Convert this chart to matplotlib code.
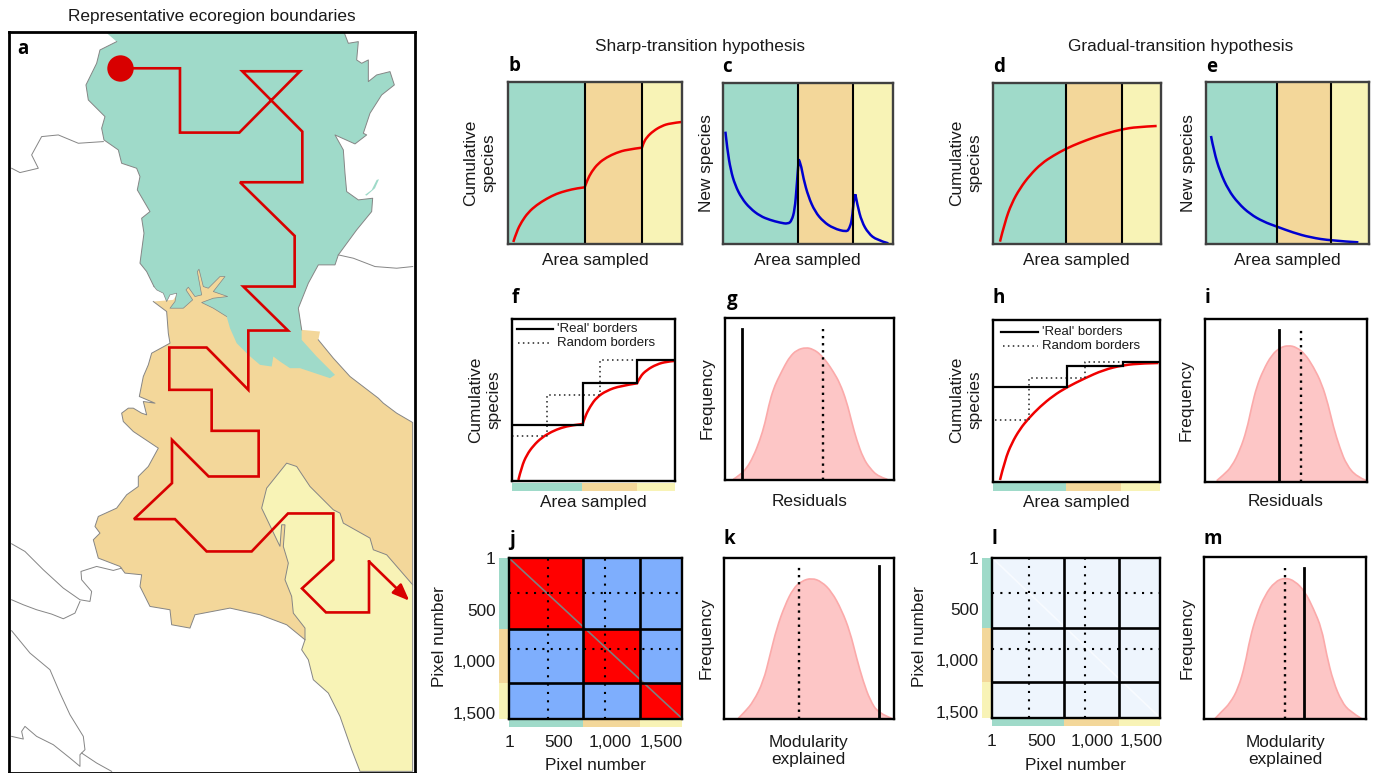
import matplotlib
matplotlib.use("Agg")
import matplotlib.pyplot as plt
from matplotlib.colors import ListedColormap
from matplotlib.patches import PathPatch
from matplotlib.path import Path
import numpy as np

plt.rcParams['font.family'] = ['Liberation Sans', 'DejaVu Sans']

W, H = 1373, 773
GREEN, ORANGE, YELLOW = '#9fdac9', '#f3d79a', '#f8f3b6'
RED, BLUE = '#f00000', '#0000d0'
PINK, PINK_EDGE = '#fdc6c6', '#fbaaaa'
GREY = '#858585'
PATH_RED = '#d80000'

# map readings, all in one scale (no numbers on this panel)
green_top_x = [320, 1033]
green_top_y = [99, 99]
green_east_x = [1033, 1045, 1075, 1070, 1085, 1105, 1105, 1130, 1170, 1183, 1145, 1110, 1090, 1100, 1065, 1005, 1030,
                1035, 1040, 1075, 1118, 1115, 1070, 1015, 1005, 955, 925, 895, 905]
green_east_y = [99, 130, 125, 180, 190, 180, 245, 225, 215, 255, 285, 340, 400, 405, 432, 405, 450,
                520, 575, 600, 595, 635, 690, 765, 795, 795, 850, 925, 990]
green_low_x = [905, 950, 1005, 990, 960, 900, 870, 840, 820, 815, 780, 745, 710, 690, 680, 640, 605, 640, 683, 640,
               675, 660, 625, 610, 597, 592, 605, 585, 565, 558, 578, 550, 510, 525, 530, 510, 500, 490, 470, 462]
green_low_y = [1020, 1070, 1125, 1135, 1125, 1105, 1105, 1085, 1070, 1100, 1095, 1065, 1030, 985, 950, 925, 908, 895,
               890, 875, 830, 830, 865, 860, 808, 815, 885, 890, 862, 870, 900, 925, 925, 905, 880, 885, 905, 880, 870, 860]
green_west_x = [462, 440, 420, 432, 425, 450, 412, 420, 410, 365, 355, 312, 305, 315, 265, 258, 290, 300, 350, 320]
green_west_y = [860, 815, 790, 700, 655, 635, 570, 530, 505, 490, 450, 420, 385, 350, 300, 255, 190, 150, 125, 99]

orange_west_x = [460, 500, 505, 510, 455, 445, 430, 418, 465, 430, 440, 425, 400, 385, 365, 370, 400, 475, 445, 415,
                 415, 380, 350, 295, 285, 300, 280, 295, 360, 375, 425, 420, 450, 510, 515, 570, 585, 690, 780, 860, 915]
orange_west_y = [905, 935, 1000, 1030, 1060, 1095, 1130, 1190, 1210, 1205, 1245, 1240, 1225, 1225, 1240, 1265, 1295,
                 1345, 1400, 1430, 1460, 1485, 1525, 1550, 1580, 1600, 1620, 1675, 1700, 1720, 1725, 1760, 1820, 1830,
                 1875, 1885, 1845, 1825, 1845, 1875, 1920]
orange_east_x = [1238, 1238, 1190, 1150, 1135, 1050, 1000, 955, 960, 905, 895]
orange_east_y = [1755, 1268, 1240, 1210, 1195, 1130, 1075, 1020, 995, 990, 925]
# part of the orange that only shows through the inlets of the green
orange_under_x = [700, 590, 520]
orange_under_y = [800, 800, 900]

yellow_x = [860, 890, 930, 1000, 1020, 1030, 1110, 1120, 1160, 1238, 1238, 1080, 1055, 1020, 985, 940, 925, 905, 915,
            915, 880, 875, 855, 865, 850, 855, 845, 840, 785, 800]
yellow_y = [1390, 1400, 1460, 1530, 1540, 1570, 1615, 1650, 1665, 1755, 2315, 2315, 2250, 2150, 2080, 2040, 1980, 1950,
            1920, 1885, 1840, 1790, 1740, 1690, 1640, 1575, 1575, 1640, 1525, 1465]

pond_x = [1095, 1115, 1130, 1137, 1125, 1100]
pond_y = [585, 570, 540, 538, 565, 587]

border_lines = [
    ([35, 60, 115, 95, 125, 175, 235, 310], [505, 518, 505, 465, 410, 405, 430, 425]),
    ([1015, 1060, 1125, 1190, 1238], [765, 775, 800, 805, 800]),
    ([35, 75, 130, 190, 240, 270, 275, 245, 243, 290, 340, 365],
     [1632, 1655, 1710, 1765, 1800, 1805, 1775, 1740, 1715, 1700, 1712, 1705]),
    ([35, 70, 110, 155, 190, 225, 240], [1800, 1815, 1830, 1843, 1857, 1840, 1805]),
    ([35, 90, 150, 180, 210, 250, 255, 240, 240, 210, 160, 110, 75, 65, 70, 35],
     [1893, 1960, 2010, 2080, 2145, 2210, 2250, 2265, 2300, 2275, 2235, 2210, 2180, 2195, 2218, 2210]),
    ([245, 290, 335], [2260, 2290, 2315]),
]

route_x = [360, 540, 540, 718, 900, 727, 907, 907, 720, 884, 884, 730, 864, 745, 745, 620, 508, 508, 635, 635, 776, 776,
           626, 516, 516, 402, 525, 620, 755, 864, 1000, 1000, 906, 978, 1107, 1107]
route_y = [205, 205, 398, 398, 214, 214, 395, 547, 547, 708, 860, 860, 992, 992, 1170, 1043, 1043, 1170, 1170, 1293,
           1293, 1430, 1430, 1320, 1450, 1558, 1558, 1655, 1655, 1541, 1541, 1680, 1766, 1838, 1838, 1685]
route_end = (1228, 1803)

# b-e curves, kinks say where a curve has a sharp corner
b_x = [190, 200, 215, 235, 260, 290, 320, 350, 380, 404, 412, 425, 445, 470, 500, 530, 576, 580, 590, 610, 635, 660, 695]
b_y = [636, 605, 575, 547, 525, 506, 491, 482, 475, 472, 450, 425, 400, 382, 368, 359, 353, 340, 322, 303, 288, 280, 276]
b_kinks = [9, 16]
c_x = [826, 832, 842, 855, 875, 900, 930, 960, 990, 1014, 1025, 1034, 1040, 1046, 1052, 1060, 1075, 1095, 1120, 1150,
       1190, 1198, 1206, 1212, 1216, 1222, 1235, 1255, 1280, 1315]
c_y = [305, 360, 420, 465, 505, 535, 558, 570, 578, 582, 572, 540, 470, 388, 400, 445, 500, 545, 575, 595,
       606, 595, 570, 500, 493, 525, 575, 610, 630, 640]
c_kinks = [13, 24]
d_x = [270, 285, 305, 330, 360, 395, 430, 470, 510, 550, 590, 636, 680, 740]
d_y = [635, 575, 520, 475, 435, 400, 377, 355, 338, 323, 310, 298, 291, 288]
e_x = [903, 912, 930, 955, 985, 1020, 1060, 1101, 1150, 1200, 1264, 1345]
e_y = [318, 365, 425, 480, 520, 552, 575, 590, 608, 622, 632, 637]

# f and h: species curve, real borders, random borders
f_x = [205, 215, 230, 250, 275, 305, 335, 365, 398, 405, 420, 440, 470, 510, 561, 570, 590, 620, 650, 672]
f_y = [600, 560, 525, 497, 473, 455, 443, 436, 432, 410, 380, 352, 332, 318, 310, 290, 270, 253, 245, 243]
f_kinks = [8, 14]
f_real_x = [185, 398, 398, 561, 561, 672]
f_real_y = [435, 435, 309, 309, 240, 240]
f_rand_x = [185, 290, 290, 450, 450, 672]
f_rand_y = [468, 468, 345, 345, 240, 240]
h_x = [270, 285, 305, 330, 356, 390, 430, 470, 524, 580, 640, 700, 745]
h_y = [600, 540, 490, 447, 415, 380, 347, 322, 295, 270, 255, 250, 249]
h_real_x = [250, 470, 470, 640, 640, 748]
h_real_y = [321, 321, 258, 258, 246, 246]
h_rand_x = [255, 356, 356, 524, 524, 640]
h_rand_y = [419, 419, 294, 294, 245, 245]

# null distributions
g_x = [850, 870, 890, 910, 930, 945, 960, 975, 990, 1005, 1020, 1040, 1068, 1090, 1110, 1130, 1150, 1170, 1190, 1205,
       1220, 1240, 1260, 1285, 1312]
g_y = [598, 585, 565, 530, 480, 430, 360, 315, 285, 255, 230, 210, 202, 208, 222, 245, 275, 310, 365, 425,
       480, 535, 565, 590, 598]
i_x = [920, 940, 965, 990, 1010, 1025, 1040, 1060, 1085, 1110, 1135, 1160, 1185, 1210, 1235, 1255, 1270, 1290, 1310,
       1340, 1370]
i_y = [602, 585, 560, 510, 450, 380, 320, 270, 225, 203, 196, 202, 222, 260, 310, 375, 440, 505, 555, 590, 602]
k_x = [925, 945, 970, 1000, 1020, 1040, 1065, 1090, 1115, 1145, 1175, 1205, 1235, 1260, 1280, 1300, 1320, 1345, 1385]
k_y = [580, 560, 530, 470, 390, 310, 240, 190, 168, 159, 170, 200, 255, 320, 400, 470, 525, 565, 580]
m_x = [915, 935, 960, 985, 1005, 1020, 1040, 1065, 1095, 1125, 1155, 1185, 1210, 1235, 1250, 1270, 1295, 1320, 1355]
m_y = [581, 560, 535, 490, 420, 340, 270, 210, 170, 158, 168, 200, 250, 310, 390, 470, 530, 560, 581]

# pixel matrices
j_xedges = [1, 715, 1266, 1675]
j_yedges = [1, 690, 1214, 1556]
j_xrand = [377, 928]
j_yrand = [339, 885]
l_xedges = [1, 718, 1266, 1675]
l_yedges = [1, 687, 1209, 1556]
l_xrand = [372, 924]
l_yrand = [340, 888]
j_blocks = [[1, 0, 0], [0, 1, 0], [0, 0, 1]]
l_blocks = [[0, 0, 0], [0, 0, 0], [0, 0, 0]]
pixel_ticks = [1, 500, 1000, 1500]
j_xticks = [1, 477, 976, 1475]
l_xticks = [1, 495, 1000, 1492]
pixel_labels = ['1', '500', '1,000', '1,500']

band_colors = [GREEN, ORANGE, YELLOW]

fig = plt.figure(figsize=(W / 100, H / 100), dpi=100)


def panel(x0, y0, x1, y1, xlim=None, ylim=None, edge='black', lw=1.7):
    ax = fig.add_axes([x0 / W, 1 - y1 / H, (x1 - x0) / W, (y1 - y0) / H])
    ax.set_xticks([])
    ax.set_yticks([])
    for s in ax.spines.values():
        s.set_color(edge)
        s.set_linewidth(lw)
        s.set_zorder(6)
    if xlim:
        ax.set_xlim(*xlim)
    if ylim:
        ax.set_ylim(*ylim)
    return ax


def label(x, y, s, size=12.4, **kw):
    kw.setdefault('ha', 'center')
    kw.setdefault('va', 'center')
    fig.text(x / W, 1 - y / H, s, fontsize=size, color='#1a1a1a', **kw)


def letter(x, y, s):
    fig.text(x / W, 1 - y / H, s, fontsize=13.5, fontweight='bold', family=['Open Sans', 'DejaVu Sans'],
             ha='center', va='center', color='black')


def round_path(x, y, kinks=()):
    # same readings, drawn as bezier pieces so the curve does not look like a polygon
    verts, codes = [(x[0], y[0])], [Path.MOVETO]
    stops = [0] + list(kinks) + [len(x) - 1]
    for a, b in zip(stops[:-1], stops[1:]):
        for i in range(a + 1, b):
            end = (x[b], y[b]) if i == b - 1 else ((x[i] + x[i + 1]) / 2, (y[i] + y[i + 1]) / 2)
            verts += [(x[i], y[i]), end]
            codes += [Path.CURVE3, Path.CURVE3]
        if b == a + 1:
            verts.append((x[b], y[b]))
            codes.append(Path.LINETO)
    return verts, codes


def curve(ax, x, y, color, kinks=(), lw=1.8):
    verts, codes = round_path(x, y, kinks)
    ax.add_patch(PathPatch(Path(verts, codes), facecolor='none', edgecolor=color, lw=lw, capstyle='butt'))


def band_panel(box, xlim, ylim, edges, x, y, color, kinks=()):
    ax = panel(*box, xlim=xlim, ylim=ylim, edge='#404040')
    for a, b, c in zip(edges[:-1], edges[1:], band_colors):
        ax.axvspan(a, b, color=c, lw=0)
    for e in edges[1:-1]:
        ax.axvline(e, color='black', lw=1.5)
    curve(ax, x, y, color, kinks)
    return ax


def border_panel(box, xlim, ylim, edges, x, y, real, rand, legend, kinks=()):
    ax = panel(*box, xlim=xlim, ylim=ylim)
    for a, b, c in zip(edges[:-1], edges[1:], band_colors):
        ax.axvspan(a, b, ymin=-0.06, ymax=-0.008, color=c, lw=0, clip_on=False)
    ax.plot(rand[0], rand[1], color='#222222', lw=1.1, ls=(0, (1, 2.2)))
    curve(ax, x, y, RED, kinks)
    ax.plot(real[0], real[1], color='black', lw=1.6, solid_joinstyle='miter')
    lx0, lx1, ltext, ly0, ly1 = legend
    ax.plot(lx0, [ly0, ly0], color='black', lw=1.6)
    ax.plot(lx1, [ly1, ly1], color='#222222', lw=1.1, ls=(0, (1, 2.2)))
    ax.text(ltext, ly0, "'Real' borders", fontsize=9.5, va='center', color='#1a1a1a')
    ax.text(ltext, ly1, "Random borders", fontsize=9.5, va='center', color='#1a1a1a')
    return ax


def null_panel(box, xlim, ylim, x, y, solid, dotted, top_solid, top_dotted):
    ax = panel(*box, xlim=xlim, ylim=ylim)
    verts, codes = round_path(x, y)
    shape = Path(verts + [(x[-1], ylim[0]), (x[0], ylim[0]), (x[0], y[0])],
                 codes + [Path.LINETO, Path.LINETO, Path.CLOSEPOLY])
    ax.add_patch(PathPatch(shape, facecolor=PINK, edgecolor='none'))
    curve(ax, x, y, PINK_EDGE, lw=1.2)
    ax.plot([solid, solid], [ylim[0], top_solid], color='black', lw=2.0)
    ax.plot([dotted, dotted], [ylim[0], top_dotted], color='black', lw=1.7, ls=(0, (1, 2)))
    return ax


def matrix_panel(box, xedges, yedges, blocks, colors, xrand, yrand, diag, xticks):
    ax = panel(*box, lw=1.7)
    ax.pcolormesh(xedges, yedges, blocks, cmap=ListedColormap(colors), vmin=0, vmax=1)
    ax.set_xlim(xedges[0], xedges[-1])
    ax.set_ylim(yedges[-1], yedges[0])
    for a, b, c in zip(xedges[:-1], xedges[1:], band_colors):
        ax.axvspan(a, b, ymin=-0.05, ymax=-0.006, color=c, lw=0, clip_on=False)
    for a, b, c in zip(yedges[:-1], yedges[1:], band_colors):
        ax.axhspan(a, b, xmin=-0.058, xmax=0, color=c, lw=0, clip_on=False)
    ax.plot([xedges[0], xedges[-1]], [yedges[0], yedges[-1]], color=diag, lw=1.2)
    for v in xrand:
        ax.axvline(v, color='black', lw=1.5, ls=(0, (1, 3)))
    for v in yrand:
        ax.axhline(v, color='black', lw=1.5, ls=(0, (1, 3)))
    for v in xedges[1:-1]:
        ax.axvline(v, color='black', lw=1.9)
    for v in yedges[1:-1]:
        ax.axhline(v, color='black', lw=1.9)
    ax.set_xticks(xticks, pixel_labels)
    ax.set_yticks(pixel_ticks, pixel_labels)
    ax.tick_params(length=0, labelsize=12.4, labelcolor='#1a1a1a')
    ax.tick_params(axis='x', pad=12)
    ax.tick_params(axis='y', pad=9.6)
    return ax


# a: map
ax = panel(9.3, 32.3, 415, 772.7, xlim=(28, 1245), ylim=(2319, 97), lw=2.0)
ax.fill(orange_west_x + orange_east_x + orange_under_x, orange_west_y + orange_east_y + orange_under_y,
        color=ORANGE, lw=0)
ax.plot(orange_west_x, orange_west_y, color=GREY, lw=0.7)
ax.plot(orange_east_x[:-3], orange_east_y[:-3], color=GREY, lw=0.7)
ax.fill(yellow_x, yellow_y, facecolor=YELLOW, edgecolor=GREY, lw=0.7)
ax.fill(green_top_x + green_east_x + green_low_x + green_west_x, green_top_y + green_east_y + green_low_y + green_west_y,
        color=GREEN, lw=0)
ax.plot(green_east_x, green_east_y, color=GREY, lw=0.7)
ax.plot(green_west_x[:-1], green_west_y[:-1], color=GREY, lw=0.7)
ax.plot(green_low_x[14:], green_low_y[14:], color=GREY, lw=0.5)
ax.fill(pond_x, pond_y, color=GREEN, lw=0)
for bx, by in border_lines:
    ax.plot(bx, by, color=GREY, lw=0.7)
ax.plot(route_x, route_y, color=PATH_RED, lw=1.9, solid_joinstyle='miter')
ax.annotate('', xy=route_end, xytext=(route_x[-1], route_y[-1]),
            arrowprops=dict(arrowstyle='-|>,head_length=1.0,head_width=0.4', color=PATH_RED, lw=1.9,
                            shrinkA=0, shrinkB=0))
ax.plot(route_x[0], route_y[0], 'o', color=PATH_RED, ms=19, mew=0)

# b-e
band_panel((508.3, 82.3, 682.3, 244), (175, 697), (642, 157), [175, 404, 576, 697], b_x, b_y, RED, b_kinks)
band_panel((722.7, 83.3, 892.7, 244), (818, 1328), (642, 160), [818, 1044, 1209, 1328], c_x, c_y, BLUE, c_kinks)
band_panel((993.3, 83.3, 1161, 244), (250, 753), (642, 160), [250, 468, 636, 753], d_x, d_y, RED)
band_panel((1206, 82.3, 1368.7, 244), (888, 1376), (642, 157), [888, 1101, 1264, 1376], e_x, e_y, BLUE)

# f-i
border_panel((511.7, 319, 675, 481.3), (185, 675), (604, 117), [185, 396, 561, 675], f_x, f_y,
             (f_real_x, f_real_y), (f_rand_x, f_rand_y), ([200, 308], [205, 305], 322, 146, 188), f_kinks)
null_panel((725.3, 317.7, 894, 480.3), (826, 1332), (601, 113), g_x, g_y, 877, 1120, 148, 148)
border_panel((993.3, 320, 1160, 481.7), (250, 750), (605, 120), [250, 467, 633, 750], h_x, h_y,
             (h_real_x, h_real_y), (h_rand_x, h_rand_y), ([272, 383], [278, 383], 397, 155, 197))
null_panel((1204.7, 319.3, 1367.3, 481.7), (884, 1372), (605, 118), i_x, i_y, 1108, 1173, 150, 150)

# j-m
matrix_panel((509, 558, 682.3, 718.7), j_xedges, j_yedges, j_blocks, ['#7eaefd', '#ff0000'], j_xrand, j_yrand,
             '#7f7f7f', j_xticks)
null_panel((723.7, 558, 894.3, 719.3), (881, 1393), (583, 99), k_x, k_y, 1348, 1107, 123, 127)
matrix_panel((992, 557.7, 1160, 717.7), l_xedges, l_yedges, l_blocks, ['#eef5fd', '#eef5fd'], l_xrand, l_yrand,
             '#f8fbff', l_xticks)
null_panel((1204.3, 557.3, 1366.3, 719.3), (883, 1369), (583, 97), m_x, m_y, 1183, 1126, 130, 130)

# titles
label(212, 17, 'Representative ecoregion boundaries')
label(700, 46, 'Sharp-transition hypothesis')
label(1180.7, 46, 'Gradual-transition hypothesis')

# axis labels
for x in [595, 807, 1076.7, 1287]:
    label(x, 260, 'Area sampled')
for x in [593.3, 1076.7]:
    label(x, 502, 'Area sampled')
for x in [810, 1286]:
    label(x, 502, 'Residuals')
for x, y in [(480, 163), (966, 163), (484.7, 400), (966, 400)]:
    label(x, y, 'Cumulative\nspecies', rotation=90, linespacing=1.3)
for x in [706.7, 1189]:
    label(x, 163, 'New species', rotation=90)
for x, y in [(706.7, 398), (1185.7, 400), (705.7, 638), (1186.7, 638)]:
    label(x, y, 'Frequency', rotation=90)
for x in [440, 920]:
    label(x, 636.7, 'Pixel number', rotation=90)
for x in [595, 1075.7]:
    label(x, 765, 'Pixel number')
for x in [808.3, 1285]:
    label(x, 750.7, 'Modularity\nexplained', linespacing=1.15)

# panel letters
letters = ['a', 'b', 'c', 'd', 'e', 'f', 'g', 'h', 'i', 'j', 'k', 'l', 'm']
letter_x = [22.7, 514, 727, 999, 1211.7, 515.7, 731.7, 998.7, 1207, 512, 729, 994.7, 1212.7]
letter_y = [49, 66, 67, 67, 67, 298, 300, 298, 298, 540, 539, 539, 539]
for s, x, y in zip(letters, letter_x, letter_y):
    letter(x, y, s)

fig.savefig('out.png', dpi=100)
